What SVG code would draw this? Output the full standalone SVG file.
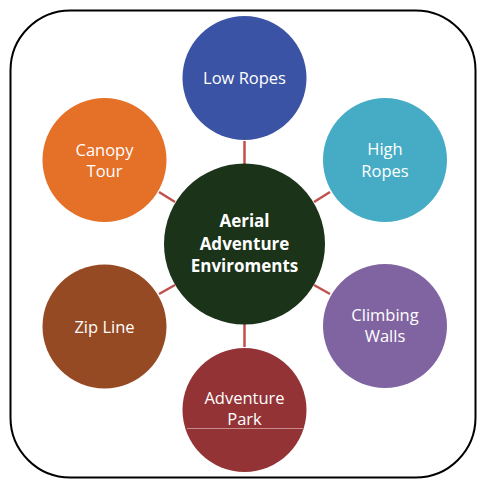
<svg xmlns="http://www.w3.org/2000/svg" width="477" height="479" viewBox="0 0 477 479">
<style>
.t{font-family:"Open Sans","Liberation Sans",sans-serif;font-size:16.5px;fill:#fff;text-anchor:middle}
.b{font-family:"Open Sans","Liberation Sans",sans-serif;font-size:17px;font-weight:bold;fill:#fff;text-anchor:middle}
.c{stroke:#c0504d;stroke-width:2.5;fill:none}
</style>
<rect x="0" y="0" width="477" height="479" fill="#fff"/>
<rect x="10.5" y="10.5" width="465" height="467" rx="60" ry="60" fill="#fff" stroke="#000" stroke-width="2"/>
<g id="connectors">
<line class="c" x1="244.5" y1="141" x2="244.5" y2="164"/>
<line class="c" x1="159" y1="192" x2="175" y2="202"/>
<line class="c" x1="314" y1="202" x2="330" y2="192"/>
<line class="c" x1="159" y1="294" x2="175" y2="285"/>
<line class="c" x1="314" y1="285" x2="330" y2="294"/>
<line class="c" x1="244.5" y1="324" x2="244.5" y2="347"/>
</g>
<g id="center">
<circle cx="244.5" cy="244" r="80.5" fill="#1b3319"/>
<text class="b" x="244.5" y="227">Aerial</text>
<text class="b" x="244.5" y="249.5">Adventure</text>
<text class="b" x="244.5" y="272">Enviroments</text>
</g>
<g id="low-ropes">
<circle cx="244.5" cy="78" r="62" fill="#3a53a4"/>
<text class="t" x="244.5" y="84">Low Ropes</text>
</g>
<g id="canopy-tour">
<circle cx="104.5" cy="160" r="62" fill="#e57027"/>
<text class="t" x="104.5" y="156">Canopy</text>
<text class="t" x="104.5" y="177">Tour</text>
</g>
<g id="high-ropes">
<circle cx="385" cy="160" r="62" fill="#46acc6"/>
<text class="t" x="385" y="155">High</text>
<text class="t" x="385" y="177">Ropes</text>
</g>
<g id="zip-line">
<circle cx="104.5" cy="326.5" r="62" fill="#964a23"/>
<text class="t" x="104.5" y="332.5">Zip Line</text>
</g>
<g id="climbing-walls">
<circle cx="385" cy="326" r="62" fill="#8064a2"/>
<text class="t" x="385" y="321">Climbing</text>
<text class="t" x="385" y="342">Walls</text>
</g>
<g id="adventure-park">
<circle cx="244.5" cy="410" r="62" fill="#943335"/>
<line x1="187" y1="428.5" x2="303" y2="428.5" stroke="#c88a8a" stroke-width="1"/>
<text class="t" x="244.5" y="404">Adventure</text>
<text class="t" x="244.5" y="425">Park</text>
</g>
</svg>
